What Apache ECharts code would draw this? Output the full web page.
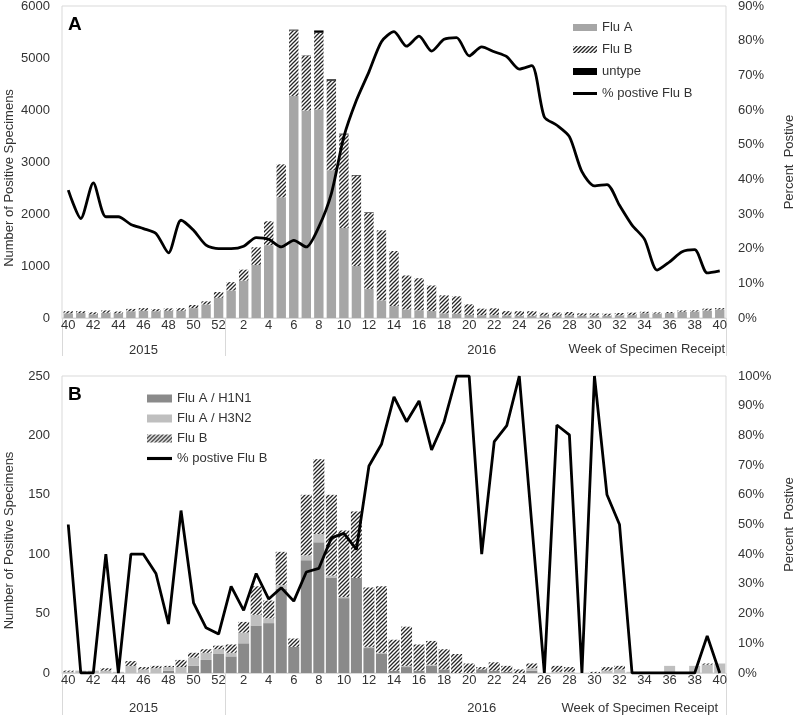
<!DOCTYPE html>
<html>
<head>
<meta charset="utf-8">
<script src="https://cdn.jsdelivr.net/npm/echarts@6/dist/echarts.min.js"></script>
<style>
  html, body { margin: 0; padding: 0; background: #fff; }
  #chart { width: 794px; height: 718px; }
</style>
</head>
<body>
<div id="chart"></div>
<script>
// weeks 40-52 of 2015, then 1-40 of 2016
const weeks = ['40','41','42','43','44','45','46','47','48','49','50','51','52',
  '1','2','3','4','5','6','7','8','9','10','11','12','13','14','15','16','17','18','19','20',
  '21','22','23','24','25','26','27','28','29','30','31','32','33','34','35','36','37','38','39','40']
const yearNames = ['2015', '2016']

// panel A
const fluA = [90,95,70,100,90,130,140,130,140,140,190,260,390,
  530,720,1020,1400,2320,4270,3990,4010,2840,1730,1000,560,340,230,165,150,135,90,85,60,
  55,55,50,45,45,45,45,50,45,45,45,50,55,90,85,95,120,125,145,165]
const fluB = [40,35,40,45,35,45,50,40,45,50,60,60,110,
  160,210,340,460,635,1260,1055,1475,1725,1800,1740,1462,1346,1058,653,615,490,346,332,203,
  125,131,82,85,85,55,60,65,45,45,38,46,48,30,23,20,25,23,35,25]
const untype = [0,0,0,0,0,0,0,0,0,0,0,0,0,
  0,0,0,0,0,15,5,45,25,15,10,10,0,0,0,0,0,0,0,0,
  0,0,0,0,0,0,0,0,0,0,0,0,0,0,0,0,0,0,0,0]
const pctA = [36.9,28.7,39.0,29.2,29.2,27.0,25.8,24.4,18.8,28.2,25.3,21.0,20.0,
  20.0,20.7,23.2,22.7,20.5,22.4,20.5,26.3,35.9,52.3,62.8,71.0,79.7,82.6,78.4,81.3,77.0,80.4,80.9,75.6,
  78.2,76.8,75.4,71.8,72.8,58.0,55.6,52.3,42.2,38.1,38.5,32.5,26.8,22.7,13.8,16.2,19.1,19.7,13.0,13.6]

// panel B
const h1n1 = [0,0,0,0,0,0,0,0,2,0,6,11,16,
  14,25,40,42,71,22,95,110,80,63,80,21,16,2,5,2,6,3,0,0,
  3,2,1,0,2,0,0,0,0,0,0,0,0,0,0,0,0,0,0,0]
const h3n2 = [1,2,2,2,1,6,3,4,3,5,7,6,4,
  3,9,9,4,3,0,4,7,2,1,0,1,1,0,1,0,1,0,0,0,
  0,0,0,0,2,0,1,1,0,0,2,3,1,1,0,6,0,6,7,8]
const fluBB = [1,0,0,2,0,4,2,2,1,6,4,3,3,
  7,9,24,15,28,7,51,63,68,56,56,50,56,26,33,22,20,17,16,8,
  2,7,5,3,4,0,5,4,0,1,3,3,0,0,0,0,0,0,1,0]
const pctB = [50,0,0,40,0,40,40,33.5,16.5,54.7,23.6,15.2,13.1,
  29.2,21.1,33.5,24.9,28.7,24.2,34,35.2,45.5,47,41.6,69.7,77,93,84.6,91.6,75.1,84.6,100,100,
  40,77.9,83.3,100,50,0,83.5,80.2,0,100,60,50,0,0,0,0,0,0,12.5,0]

const txt = '#333'
const border = '#d9d9d9'
const font = 'Liberation Sans, Arial, sans-serif'
const lineIcon = 'path://M0,0 H24 V3 H0 Z'

function hatch() {
  const c = document.createElement('canvas')
  c.width = 4; c.height = 4
  const ctx = c.getContext('2d')
  ctx.fillStyle = '#fff'
  ctx.fillRect(0, 0, 4, 4)
  ctx.strokeStyle = '#262626'
  ctx.lineWidth = 1.3
  ctx.beginPath()
  ctx.moveTo(0, 4); ctx.lineTo(4, 0)
  ctx.moveTo(-1, 1); ctx.lineTo(1, -1)
  ctx.moveTo(3, 5); ctx.lineTo(5, 3)
  ctx.stroke()
  return {image: c, repeat: 'repeat'}
}
const hatchFill = hatch()

// week labels every other week, year under the middle of each year block
function weekAxis(gridIndex, yearGap, tickLen) {
  return {
    type: 'category',
    gridIndex: gridIndex,
    data: weeks,
    axisLine: {lineStyle: {color: border}},
    axisTick: {
      show: true,
      interval: (i) => i === 0 || i === 13,
      length: tickLen,
      lineStyle: {color: border}
    },
    axisLabel: {
      interval: (i) => i % 2 === 0 || i === 33,
      margin: 0,
      fontSize: 13,
      color: txt,
      lineHeight: 14,
      formatter: (v, i) => {
        let first = i % 2 === 0 ? v : ' '
        if (i === 6) return first + '\n{y|' + yearNames[0] + '}'
        if (i === 33) return first + '\n{y|' + yearNames[1] + '}'
        return first
      },
      rich: {y: {fontSize: 13, color: txt, lineHeight: yearGap}}
    }
  }
}

function countAxis(gridIndex, max, step) {
  return {
    type: 'value',
    gridIndex: gridIndex,
    position: 'left',
    min: 0,
    max: max,
    interval: step,
    name: 'Number of Positive Specimens',
    nameLocation: 'middle',
    nameGap: 46,
    nameMoveOverlap: false,
    nameTextStyle: {fontSize: 13, color: txt, padding: [0, 32, 0, 0]},
    axisLine: {show: false},
    axisTick: {show: false},
    splitLine: {show: false},
    axisLabel: {fontSize: 13, color: txt, margin: 12, formatter: (v) => String(v)}
  }
}

function pctAxis(gridIndex, max) {
  return {
    type: 'value',
    gridIndex: gridIndex,
    position: 'right',
    min: 0,
    max: max,
    interval: 10,
    name: 'Percent  Postive',
    nameLocation: 'middle',
    nameGap: 57,
    nameMoveOverlap: false,
    nameTextStyle: {fontSize: 13, color: txt},
    axisLine: {show: false},
    axisTick: {show: false},
    splitLine: {show: false},
    axisLabel: {fontSize: 13, color: txt, margin: 12, formatter: '{value}%'}
  }
}

const lineStyle = {width: 2.8, color: '#000'}

const option = {
  animation: false,
  textStyle: {fontFamily: font},
  title: [
    {text: 'A', left: 68, top: 15, padding: 0, textStyle: {fontSize: 19, fontWeight: 'bold', color: '#000', fontFamily: font}},
    {text: 'B', left: 68, top: 385, padding: 0, textStyle: {fontSize: 19, fontWeight: 'bold', color: '#000', fontFamily: font}},
    {text: 'Week of Specimen Receipt', right: 69, top: 343, padding: 0, textStyle: {fontSize: 13, fontWeight: 'normal', color: txt, fontFamily: font}},
    {text: 'Week of Specimen Receipt', right: 76, top: 702, padding: 0, textStyle: {fontSize: 13, fontWeight: 'normal', color: txt, fontFamily: font}}
  ],
  legend: [
    {
      data: [{name: 'Flu A', icon: 'rect'}, {name: 'Flu B', icon: 'rect'}, {name: 'untype', icon: 'rect'}, {name: '% postive Flu B', icon: lineIcon}],
      orient: 'vertical', left: 573, top: 21, padding: 0,
      itemWidth: 24, itemHeight: 7, itemGap: 9,
      textStyle: {fontSize: 13, color: txt}
    },
    {
      data: [{name: 'Flu A / H1N1', icon: 'rect'}, {name: 'Flu A / H3N2', icon: 'rect'}, {name: 'Flu B', icon: 'rect'}, {name: '% postive Flu B', icon: lineIcon}],
      orient: 'vertical', left: 147, top: 392, padding: 0,
      itemWidth: 25, itemHeight: 8, itemGap: 7,
      textStyle: {fontSize: 13, color: txt}
    }
  ],
  grid: [
    {left: 62, right: 68, top: 6, bottom: 400, show: true, borderColor: border, borderWidth: 1,
      containLabel: false, outerBoundsMode: 'none'},
    {left: 62, right: 68, top: 376, bottom: 45, show: true, borderColor: border, borderWidth: 1,
      containLabel: false, outerBoundsMode: 'none'}
  ],
  xAxis: [weekAxis(0, 37, 38), weekAxis(1, 43, 42)],
  yAxis: [countAxis(0, 6000, 1000), pctAxis(0, 90), countAxis(1, 250, 50), pctAxis(1, 100)],
  series: [
    {name: 'Flu A', type: 'bar', xAxisIndex: 0, yAxisIndex: 0, stack: 'a', barCategoryGap: '25%',
      itemStyle: {color: '#a6a6a6'}, data: fluA},
    {name: 'Flu B', type: 'bar', xAxisIndex: 0, yAxisIndex: 0, stack: 'a',
      itemStyle: {color: hatchFill}, data: fluB},
    {name: 'untype', type: 'bar', xAxisIndex: 0, yAxisIndex: 0, stack: 'a',
      itemStyle: {color: '#000'}, data: untype},
    {name: '% postive Flu B', type: 'line', xAxisIndex: 0, yAxisIndex: 1, smooth: 0.25,
      symbol: 'none', lineStyle: lineStyle, itemStyle: {color: '#000'}, data: pctA},

    {name: 'Flu A / H1N1', type: 'bar', xAxisIndex: 1, yAxisIndex: 2, stack: 'b', barCategoryGap: '12%',
      itemStyle: {color: '#8a8a8a'}, data: h1n1},
    {name: 'Flu A / H3N2', type: 'bar', xAxisIndex: 1, yAxisIndex: 2, stack: 'b',
      itemStyle: {color: '#bfbfbf'}, data: h3n2},
    {name: 'Flu B', type: 'bar', xAxisIndex: 1, yAxisIndex: 2, stack: 'b',
      itemStyle: {color: hatchFill}, data: fluBB},
    {name: '% postive Flu B', type: 'line', xAxisIndex: 1, yAxisIndex: 3,
      symbol: 'none', lineStyle: lineStyle, itemStyle: {color: '#000'}, data: pctB}
  ]
}

const chart = echarts.init(document.getElementById('chart'))
chart.setOption(option)
</script>
</body>
</html>
